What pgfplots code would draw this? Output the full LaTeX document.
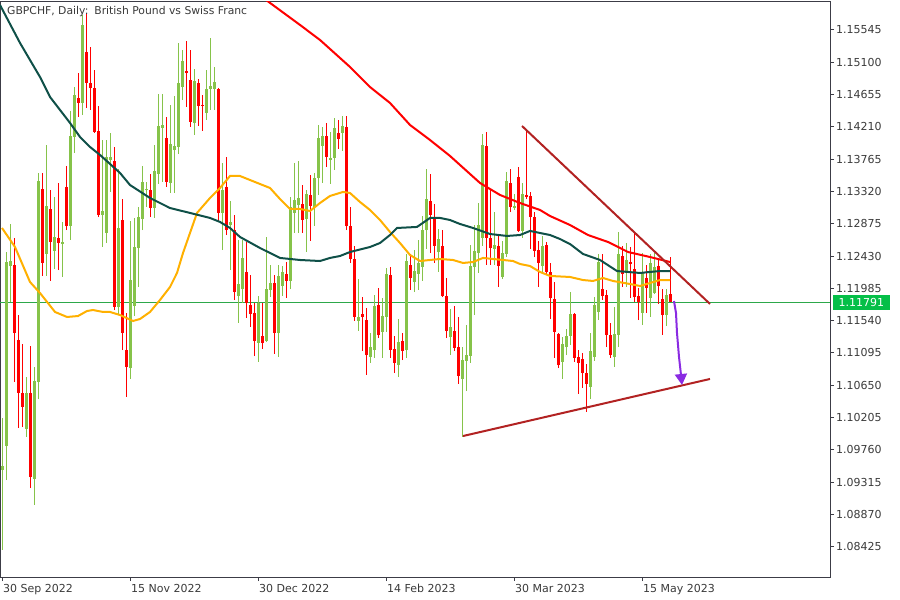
\documentclass[border=0pt]{standalone}
\usepackage{pgfplots}
\pgfplotsset{compat=1.18}
\usepackage{pgfplotstable}
\usepackage{fontspec}
\setmainfont{DejaVu Sans}
\usetikzlibrary{arrows.meta}
\definecolor{bull}{HTML}{86C34A}
\definecolor{bear}{HTML}{FF0000}
\definecolor{maslow}{HTML}{0F5048}
\definecolor{mared}{HTML}{FF0000}
\definecolor{maorange}{HTML}{FFB000}
\definecolor{trend}{HTML}{B22222}
\definecolor{arrowc}{HTML}{8A2BE2}
\definecolor{pricel}{HTML}{2DA84A}
\definecolor{pricebox}{HTML}{05BF48}
\definecolor{framec}{HTML}{3C3C46}
\definecolor{labelc}{HTML}{3A3A3A}

% bullish candles: index, open, high, low, close
\pgfplotstableread{
k O H L C
0 1.09483 1.10199 1.08381 1.09538
1 1.09813 1.12486 1.09345 1.12348
2 1.12293 1.12872 1.11797 1.12362
6 1.10048 1.10764 1.09938 1.10544
8 1.09359 1.10902 1.09001 1.10709
9 1.10695 1.13575 1.10461 1.13464
11 1.12459 1.13960 1.12156 1.13120
13 1.12500 1.13244 1.12252 1.12693
15 1.12596 1.12900 1.12142 1.12624
17 1.12844 1.14429 1.12652 1.14084
18 1.14071 1.14759 1.13850 1.14649
20 1.14539 1.15751 1.14374 1.15614
25 1.12996 1.14029 1.12555 1.13051
26 1.12748 1.14029 1.12610 1.13795
27 1.13754 1.14126 1.13313 1.13795
29 1.11729 1.13630 1.11618 1.12817
32 1.10888 1.12913 1.10737 1.12100
33 1.11742 1.12955 1.11604 1.12555
34 1.12541 1.13106 1.12004 1.12968
35 1.12941 1.13671 1.12789 1.13451
36 1.13340 1.13451 1.13106 1.13354
38 1.13092 1.13960 1.12955 1.13602
39 1.13561 1.14663 1.13423 1.14222
40 1.14195 1.14663 1.13451 1.14236
42 1.13437 1.14511 1.13299 1.13974
43 1.13891 1.14635 1.13299 1.13947
44 1.13933 1.15366 1.13836 1.14815
45 1.14759 1.15269 1.14580 1.15118
48 1.14264 1.15007 1.14098 1.14842
51 1.14401 1.14994 1.14305 1.14732
52 1.14732 1.15435 1.14443 1.14773
53 1.14732 1.15035 1.14443 1.14828
55 1.13024 1.13712 1.12514 1.13340
57 1.12858 1.13189 1.12238 1.12900
59 1.11880 1.12652 1.11508 1.12045
60 1.11976 1.12652 1.11784 1.12404
64 1.11233 1.11880 1.10971 1.11784
66 1.11260 1.12693 1.11246 1.11976
67 1.11963 1.12307 1.11866 1.12059
69 1.11370 1.12307 1.11040 1.12156
70 1.12018 1.12293 1.11880 1.12211
72 1.12087 1.13244 1.11976 1.13106
73 1.13024 1.13712 1.12748 1.13203
74 1.13134 1.13740 1.12748 1.13230
76 1.12941 1.13340 1.12486 1.13285
78 1.13106 1.13575 1.12844 1.13506
79 1.13506 1.14236 1.13272 1.14057
80 1.13947 1.14208 1.13437 1.14084
82 1.13754 1.14139 1.13423 1.13781
83 1.13781 1.14332 1.13616 1.14195
85 1.14126 1.14360 1.13878 1.14222
89 1.11536 1.12114 1.11398 1.11591
92 1.11040 1.11370 1.10957 1.11177
93 1.11136 1.11894 1.11026 1.11742
95 1.11384 1.11853 1.11026 1.11604
96 1.11591 1.12266 1.11384 1.12183
99 1.10929 1.11563 1.10764 1.11246
101 1.11136 1.12459 1.11026 1.12362
103 1.12073 1.12514 1.11935 1.12224
104 1.12183 1.12652 1.11963 1.12335
105 1.12280 1.12982 1.12087 1.12789
106 1.12789 1.13630 1.12528 1.13216
109 1.12486 1.12803 1.12211 1.12665
112 1.11315 1.11701 1.11067 1.11453
115 1.10737 1.11177 1.09938 1.10998
116 1.10985 1.11481 1.10571 1.11067
117 1.11053 1.12583 1.10957 1.12293
118 1.12280 1.12858 1.11618 1.12500
119 1.12472 1.13161 1.12197 1.12858
120 1.12679 1.14112 1.12569 1.13960
123 1.12528 1.13037 1.12307 1.12583
125 1.12142 1.12638 1.12114 1.12472
126 1.12459 1.13588 1.12417 1.13464
128 1.13092 1.13285 1.13065 1.13120
130 1.12776 1.13437 1.12679 1.13285
135 1.12293 1.12707 1.12197 1.12569
140 1.10971 1.11315 1.10737 1.11219
141 1.11177 1.11425 1.11067 1.11329
142 1.11329 1.11935 1.11205 1.11632
147 1.10626 1.11370 1.10461 1.11122
148 1.11040 1.11866 1.10985 1.11756
149 1.11660 1.12459 1.11549 1.12348
153 1.11040 1.11729 1.10902 1.11357
154 1.11343 1.12762 1.11177 1.12459
156 1.12197 1.12610 1.12004 1.12376
160 1.11646 1.12472 1.11481 1.12211
162 1.11853 1.12459 1.11591 1.12335
163 1.11921 1.12472 1.11908 1.12280
166 1.11618 1.11976 1.11467 1.11894
}\tabup

% bearish candles: index, open, high, low, close
\pgfplotstableread{
k O H L C
3 1.12307 1.12679 1.10695 1.11370
4 1.11274 1.11618 1.10062 1.10544
5 1.10544 1.11219 1.10075 1.10351
7 1.10544 1.11191 1.09235 1.09386
10 1.13354 1.13575 1.12156 1.12335
12 1.13079 1.13340 1.12087 1.12624
14 1.12679 1.13437 1.12238 1.12610
16 1.13382 1.13671 1.12789 1.12844
19 1.14608 1.14952 1.14346 1.14539
21 1.15242 1.15765 1.14470 1.14815
22 1.14815 1.15311 1.14443 1.14746
23 1.14746 1.14994 1.14126 1.14139
24 1.14153 1.14498 1.12968 1.12996
28 1.13740 1.13933 1.11687 1.11729
30 1.12927 1.13216 1.11136 1.11370
31 1.11136 1.11646 1.10489 1.10902
37 1.13340 1.13561 1.12968 1.13092
41 1.14057 1.14346 1.13382 1.13451
46 1.14980 1.15393 1.14484 1.14952
47 1.14856 1.15269 1.14208 1.14277
49 1.14815 1.14870 1.14222 1.14498
50 1.14511 1.14649 1.14153 1.14498
54 1.14732 1.14746 1.12900 1.13024
56 1.13382 1.13795 1.12720 1.12789
58 1.12789 1.12996 1.11825 1.11935
61 1.12211 1.12624 1.11577 1.11784
62 1.11756 1.12169 1.11453 1.11632
63 1.11646 1.11784 1.11053 1.11260
65 1.11329 1.11784 1.11150 1.11233
68 1.12059 1.12169 1.11081 1.11370
71 1.12183 1.12348 1.11853 1.12087
75 1.13148 1.13409 1.12748 1.12927
77 1.13272 1.13547 1.12638 1.13120
81 1.14084 1.14264 1.13657 1.13795
84 1.14126 1.14305 1.13905 1.14043
86 1.14208 1.14360 1.12789 1.12844
87 1.12844 1.13106 1.12335 1.12390
88 1.12390 1.12569 1.11536 1.11591
90 1.11632 1.11866 1.11122 1.11591
91 1.11549 1.11715 1.10792 1.11067
94 1.11756 1.11990 1.11301 1.11343
97 1.12169 1.12280 1.11026 1.11136
98 1.11150 1.11329 1.10819 1.10957
100 1.11260 1.11370 1.10998 1.11122
102 1.12307 1.12459 1.11963 1.12128
107 1.13189 1.13561 1.12472 1.12996
108 1.12968 1.13148 1.12335 1.12569
110 1.12569 1.12789 1.11866 1.11880
111 1.11880 1.12128 1.11301 1.11398
113 1.11398 1.11742 1.11122 1.11164
114 1.11177 1.11591 1.10668 1.10778
121 1.13947 1.14139 1.12307 1.12679
122 1.12679 1.13340 1.12307 1.12541
124 1.12569 1.12707 1.12004 1.12293
127 1.13437 1.13630 1.13037 1.13106
129 1.13520 1.13657 1.12762 1.12776
131 1.13272 1.14153 1.13216 1.13244
132 1.13258 1.13313 1.12528 1.12968
133 1.12968 1.13037 1.12417 1.12500
134 1.12514 1.12638 1.12004 1.12335
136 1.12583 1.12624 1.12169 1.12211
137 1.12211 1.12335 1.11563 1.11853
138 1.11839 1.12073 1.11026 1.11384
139 1.11357 1.11370 1.10888 1.10929
143 1.11632 1.11646 1.10971 1.11026
144 1.11040 1.11136 1.10530 1.10957
145 1.11012 1.11095 1.10613 1.10819
146 1.10819 1.10943 1.10282 1.10668
150 1.11976 1.12459 1.11825 1.11880
151 1.11894 1.11963 1.11177 1.11343
152 1.11343 1.11508 1.11026 1.11067
155 1.12431 1.12569 1.12004 1.12183
157 1.12348 1.12555 1.11853 1.12321
158 1.12252 1.12748 1.11797 1.11866
159 1.11880 1.11990 1.11549 1.11797
161 1.12128 1.12307 1.11646 1.11990
164 1.12293 1.12390 1.11770 1.12018
165 1.11839 1.11976 1.11343 1.11618
167 1.11908 1.12417 1.11791 1.11791
}\tabdown

% dark green moving average
\pgfplotstableread{
k p
-0.5 1.15889
4.5 1.15366
7 1.15131
9.5 1.14897
12 1.14622
14.5 1.14443
17 1.14264
19.5 1.14071
22 1.13933
24.5 1.13823
27 1.13699
29.5 1.13575
32 1.13409
37 1.13230
42 1.13092
47 1.13024
52 1.12955
54.5 1.12900
57 1.12817
59.5 1.12693
64.5 1.12541
69.5 1.12404
74.5 1.12376
79.5 1.12362
82 1.12404
84.5 1.12431
87 1.12486
92 1.12555
94.5 1.12610
97 1.12720
98.75 1.12817
103.75 1.12831
107 1.12955
109.5 1.12955
112 1.12927
114.5 1.12872
117.75 1.12817
122 1.12734
126.25 1.12707
129.5 1.12720
132 1.12776
134.5 1.12748
137 1.12720
139.5 1.12665
142 1.12596
145.25 1.12459
149.5 1.12376
153.75 1.12224
159.5 1.12197
162 1.12211
164.5 1.12224
167 1.12224
}\tabmaA

% red moving average
\pgfplotstableread{
k p
66 1.15958
74.5 1.15614
79.5 1.15407
84.5 1.15159
87 1.15035
92 1.14759
97 1.14539
102 1.14236
107 1.14029
109.5 1.13919
112 1.13809
114.5 1.13685
119.5 1.13437
122 1.13354
124.5 1.13272
129.5 1.13161
134.5 1.13065
137 1.12982
142 1.12858
146.5 1.12720
151.5 1.12624
156.5 1.12486
162 1.12417
167 1.12348
}\tabmaB

% orange moving average
\pgfplotstableread{
k p
0 1.12817
3.25 1.12555
7 1.12073
9.5 1.11921
13.25 1.11660
16.25 1.11591
19 1.11604
21.25 1.11673
22.75 1.11687
25.25 1.11660
27 1.11660
29.5 1.11618
32.75 1.11536
34.5 1.11563
37 1.11660
39.5 1.11825
42 1.12004
43.75 1.12197
45.25 1.12472
47 1.12748
48.75 1.13024
52 1.13230
54.5 1.13368
57 1.13533
59.5 1.13533
62 1.13478
64.5 1.13423
67 1.13368
69.5 1.13216
72 1.13079
74.5 1.13079
77 1.13051
79.5 1.13161
82 1.13258
85.25 1.13313
87 1.13299
89.5 1.13175
92 1.13065
94.5 1.12927
97 1.12762
99.5 1.12610
102 1.12445
104.5 1.12362
107 1.12376
109.5 1.12390
112.75 1.12376
115.25 1.12335
117.75 1.12348
120.25 1.12404
122.75 1.12390
127.75 1.12362
129.5 1.12321
132 1.12293
134.5 1.12211
137 1.12156
142 1.12142
145.25 1.12100
147.75 1.12087
150.25 1.12128
152.75 1.12087
157 1.12045
159.5 1.12018
162 1.12059
164.5 1.12100
167 1.12100
}\tabmaC

\begin{document}
\begin{tikzpicture}
\path[use as bounding box] (0,0) rectangle (900pt,600pt);
\begin{axis}[
  at={(0pt,23pt)}, anchor=south west,
  width=830pt, height=575pt, scale only axis,
  xmin=-0.5, xmax=207, ymin=1.08009, ymax=1.15930,
  axis line style={draw=framec, line width=1pt},
  tick style={draw=framec, line width=1pt},
  tick align=outside, major tick length=4pt,
  xtick pos=bottom, ytick pos=right, yticklabel pos=right,
  xtick={0,32,64,96,128,160},
  xticklabels={30 Sep 2022,15 Nov 2022,30 Dec 2022,14 Feb 2023,30 Mar 2023,15 May 2023},
  ytick={1.08425,1.08870,1.09315,1.09760,1.10205,1.10650,1.11095,1.11540,1.11985,1.12430,1.12875,1.13320,1.13765,1.14210,1.14655,1.15100,1.15545},
  yticklabels={1.08425,1.08870,1.09315,1.09760,1.10205,1.10650,1.11095,1.11540,1.11985,1.12430,1.12875,1.13320,1.13765,1.14210,1.14655,1.15100,1.15545},
  ticklabel style={font=\fontsize{11}{13}\selectfont, text=labelc},
  xticklabel style={anchor=north west, inner sep=0pt, xshift=1pt, yshift=-3pt},
  yticklabel style={anchor=west, inner sep=0pt, xshift=2pt},
  /pgf/number format/assume math mode=true,
]
% current price line
\addplot[pricel, line width=1pt, forget plot] coordinates {(-0.5,1.11791) (207,1.11791)};
\coordinate (pricept) at (axis cs:207,1.11791);

% bullish wicks and bodies
\addplot[draw=none, mark=none, forget plot,
  error bars/.cd, y dir=plus, y explicit, error mark=none,
  error bar style={draw=bull, line width=1pt}]
  table[x=k, y=L, y error plus expr=\thisrow{H}-\thisrow{L}] {\tabup};
\addplot[draw=none, mark=none, forget plot,
  error bars/.cd, y dir=plus, y explicit, error mark=none,
  error bar style={draw=bull, line width=3pt}]
  table[x=k, y=O, y error plus expr=\thisrow{C}-\thisrow{O}] {\tabup};
% bearish wicks and bodies
\addplot[draw=none, mark=none, forget plot,
  error bars/.cd, y dir=plus, y explicit, error mark=none,
  error bar style={draw=bear, line width=1pt}]
  table[x=k, y=L, y error plus expr=\thisrow{H}-\thisrow{L}] {\tabdown};
\addplot[draw=none, mark=none, forget plot,
  error bars/.cd, y dir=plus, y explicit, error mark=none,
  error bar style={draw=bear, line width=3pt}]
  table[x=k, y=C, y error plus expr=\thisrow{O}-\thisrow{C}] {\tabdown};

% moving averages
\addplot[maorange, line width=2pt] table[x=k, y=p] {\tabmaC};
\addplot[mared, line width=2pt] table[x=k, y=p] {\tabmaB};
\addplot[maslow, line width=2pt] table[x=k, y=p] {\tabmaA};

% trend lines
\addplot[trend, line width=2pt] coordinates {(130,1.14222) (177,1.11770)};
\addplot[trend, line width=2pt] coordinates {(115.25,1.09951) (177,1.10737)};

% projected move
\addplot[arrowc, line width=2pt, -{Triangle[width=12pt,length=11pt]}]
  coordinates {(168,1.11811) (168.5,1.11646) (168.75,1.11370) (169.25,1.11040) (169.75,1.10792) (170,1.10654)};

\node[anchor=north west, inner sep=0pt, xshift=7pt, yshift=-4.5pt,
  font=\fontsize{10.8}{13}\selectfont, text=labelc]
  at (rel axis cs:0,1) {GBPCHF, Daily:\hspace{0.55em}British Pound vs Swiss Franc};
\end{axis}
\node[anchor=west, xshift=3pt, fill=pricebox, text=white, inner xsep=5.5pt, inner ysep=0pt,
  minimum height=15pt, text height=8pt, text depth=0pt,
  font=\fontsize{11}{13}\selectfont] at (pricept) {1.11791};
\end{tikzpicture}
\end{document}
